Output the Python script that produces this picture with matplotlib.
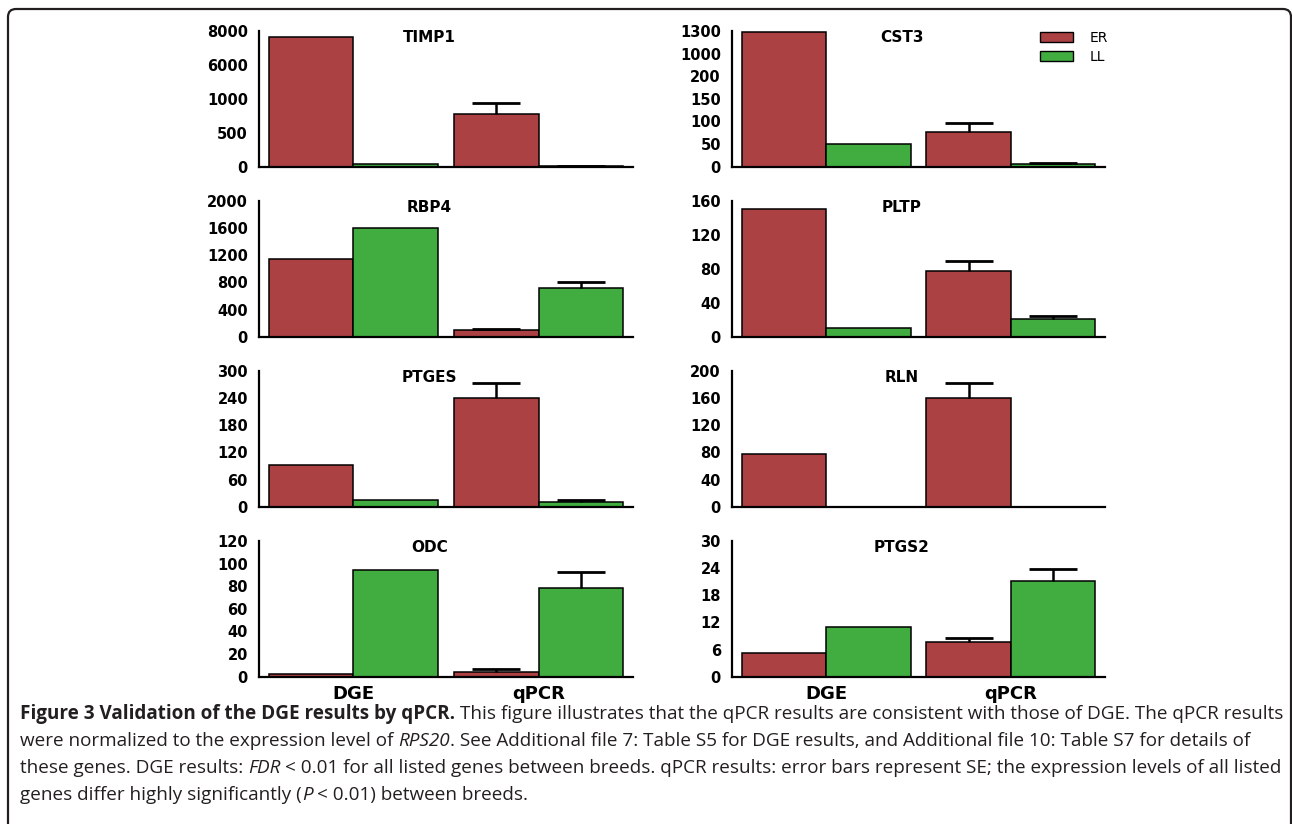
import numpy as np
import matplotlib
matplotlib.use("Agg")
import matplotlib.pyplot as plt
from matplotlib.patches import Patch, FancyBboxPatch
from matplotlib.font_manager import FontProperties, fontManager

# ---------------- data ----------------
genes = ["TIMP1", "CST3", "RBP4", "PLTP", "PTGES", "RLN", "ODC", "PTGS2"]
methods = ["DGE", "qPCR"]
series = ["ER", "LL"]
er_dge = [7650, 1290, 1150, 150, 92, 78, 2.4, 5.3]
ll_dge = [45, 50, 1595, 10.5, 15, 0, 94, 10.9]
er_qpcr = [780, 77, 98, 77, 241, 160, 3.9, 7.7]
er_qpcr_se = [160, 19, 20, 12, 32, 22, 3.0, 0.8]
ll_qpcr = [12, 5, 712, 20.5, 10, 0, 78.5, 21.1]
ll_qpcr_se = [4, 3, 92, 4.3, 4, 0, 14.3, 2.7]
yticks = {
    "TIMP1": [0, 500, 1000, 6000, 8000],
    "CST3": [0, 50, 100, 150, 200, 1000, 1300],
    "RBP4": [0, 400, 800, 1200, 1600, 2000],
    "PLTP": [0, 40, 80, 120, 160],
    "PTGES": [0, 60, 120, 180, 240, 300],
    "RLN": [0, 40, 80, 120, 160, 200],
    "ODC": [0, 20, 40, 60, 80, 100, 120],
    "PTGS2": [0, 6, 12, 18, 24, 30],
}
broken_axes = ["TIMP1", "CST3"]

caption_lines = [
    [("Figure 3 Validation of the DGE results by qPCR.", "bold"),
     (" This figure illustrates that the qPCR results are consistent with those of DGE. The qPCR results", "normal")],
    [("were normalized to the expression level of ", "normal"), ("RPS20", "italic"),
     (". See Additional file 7: Table S5 for DGE results, and Additional file 10: Table S7 for details of", "normal")],
    [("these genes. DGE results: ", "normal"), ("FDR", "italic"),
     (" < 0.01 for all listed genes between breeds. qPCR results: error bars represent SE; the expression levels of all listed", "normal")],
    [("genes differ highly significantly (", "normal"), ("P", "italic"), (" < 0.01) between breeds.", "normal")],
]

# ---------------- style ----------------
RED = "#AC4143"
GREEN = "#41AD41"
TXT = "#231F20"
W, H = 1292, 824

fig = plt.figure(figsize=(W / 100, H / 100), dpi=100)
fig.patch.set_facecolor("white")

# outer rounded frame
frame = FancyBboxPatch((8 / 100, -0.3), (1291 - 8) / 100, (H - 9) / 100 + 0.3,
                       boxstyle="round,pad=0,rounding_size=0.08",
                       transform=fig.dpi_scale_trans, fill=False,
                       edgecolor=TXT, linewidth=1.6)
fig.add_artist(frame)

row_tops = [31, 201, 371, 541]
row_h = 135.7
col_left = [259, 732]
col_w = [374, 373]

bw = 0.457
x = np.arange(len(methods))

for i, g in enumerate(genes):
    r, c = divmod(i, 2)
    top = row_tops[r]
    ax = fig.add_axes([col_left[c] / W, 1 - (top + row_h) / H, col_w[c] / W, row_h / H])
    ticks = yticks[g]
    if g in broken_axes:
        vals = np.array(ticks, dtype=float)
        pos = np.arange(len(ticks), dtype=float)
        fwd = lambda y, v=vals, p=pos: np.interp(y, v, p)
        inv = lambda y, v=vals, p=pos: np.interp(y, p, v)
        ax.set_yscale("function", functions=(fwd, inv))
    er_vals = [er_dge[i], er_qpcr[i]]
    ll_vals = [ll_dge[i], ll_qpcr[i]]
    ax.bar(x - bw / 2, er_vals, width=bw, color=RED, edgecolor="black", linewidth=1.1, zorder=2, label=series[0])
    ax.bar(x + bw / 2, ll_vals, width=bw, color=GREEN, edgecolor="black", linewidth=1.1, zorder=2, label=series[1])
    # error bars (qPCR only, upward, single cap on top)
    for xv, val, se in [(x[1] - bw / 2, er_qpcr[i], er_qpcr_se[i]), (x[1] + bw / 2, ll_qpcr[i], ll_qpcr_se[i])]:
        if se > 0:
            eb = ax.errorbar([xv], [val], yerr=[[0], [se]], fmt="none", ecolor="black",
                             elinewidth=1.8, capsize=17, capthick=2.0, zorder=3)
            for cl in eb.lines[1]:
                yd = np.asarray(cl.get_ydata(), dtype=float)
                if np.allclose(yd, val):
                    cl.set_visible(False)
    ax.set_xlim(-0.51, 1.51)
    ax.set_ylim(0, ticks[-1])
    ax.set_yticks(ticks, labels=[str(t) for t in ticks], fontweight="bold", fontsize=10.5)
    ax.yaxis.set_minor_locator(matplotlib.ticker.NullLocator())
    ax.tick_params(axis="y", length=0, pad=8)
    if r == 3:
        ax.set_xticks(x, labels=methods, fontweight="bold", fontsize=13)
        ax.tick_params(axis="x", length=0, pad=6)
    else:
        ax.set_xticks([])
    for s in ["top", "right"]:
        ax.spines[s].set_visible(False)
    for s in ["left", "bottom"]:
        ax.spines[s].set_linewidth(1.6)
    ax.set_facecolor("none")
    ax.text(0.455, 0.955, g, transform=ax.transAxes, ha="center", va="center",
            fontweight="bold", fontsize=11)
    if g == "CST3":
        handles = [Patch(facecolor=RED, edgecolor="black", linewidth=1.0),
                   Patch(facecolor=GREEN, edgecolor="black", linewidth=1.0)]
        ax.legend(handles, series, loc="upper left", bbox_to_anchor=(0.825, 1.0),
                  frameon=False, handlelength=2.4, handleheight=0.8, handletextpad=1.2,
                  labelspacing=0.35, borderpad=0, borderaxespad=0, fontsize=10)

# ---------------- caption ----------------
def has_regular(name):
    for f in fontManager.ttflist:
        if f.name == name and f.style == "normal" and f.weight in (400, "normal", "regular", "book"):
            return True
    return False


cap_family = "DejaVu Sans"
for n in ["Liberation Sans Narrow", "Open Sans", "Noto Sans", "Liberation Sans"]:
    if has_regular(n):
        cap_family = n
        break

renderer = fig.canvas.get_renderer()


def fp_for(style, size):
    return FontProperties(family=cap_family, size=size,
                          weight="bold" if style == "bold" else "normal",
                          style="italic" if style == "italic" else "normal")


def twidth(s, fp):
    if not s:
        return 0.0
    t1 = fig.text(0, 0, "|" + s + "|", fontproperties=fp)
    t2 = fig.text(0, 0, "||", fontproperties=fp)
    w = t1.get_window_extent(renderer).width - t2.get_window_extent(renderer).width
    t1.remove()
    t2.remove()
    return w


def draw_line(runs, x0, ybase, size, draw=True):
    xx = x0
    for s, style in runs:
        fp = fp_for(style, size)
        core = s.strip()
        lead = s[: len(s) - len(s.lstrip())]
        trail = s[len(s.rstrip()):]
        xx += twidth(lead, fp)
        if draw and core:
            fig.text(xx / W, 1 - ybase / H, core, fontproperties=fp, ha="left",
                     va="baseline", color=TXT)
        xx += twidth(core, fp) + twidth(trail, fp)
    return xx - x0


base = 12.0
w1 = draw_line(caption_lines[0], 20, 719, base, draw=False)
size = base * (1275 - 20) / w1
baselines = [719, 746, 773, 800]
for runs, yb in zip(caption_lines, baselines):
    draw_line(runs, 20, yb, size)

fig.savefig("out.png", dpi=100)
